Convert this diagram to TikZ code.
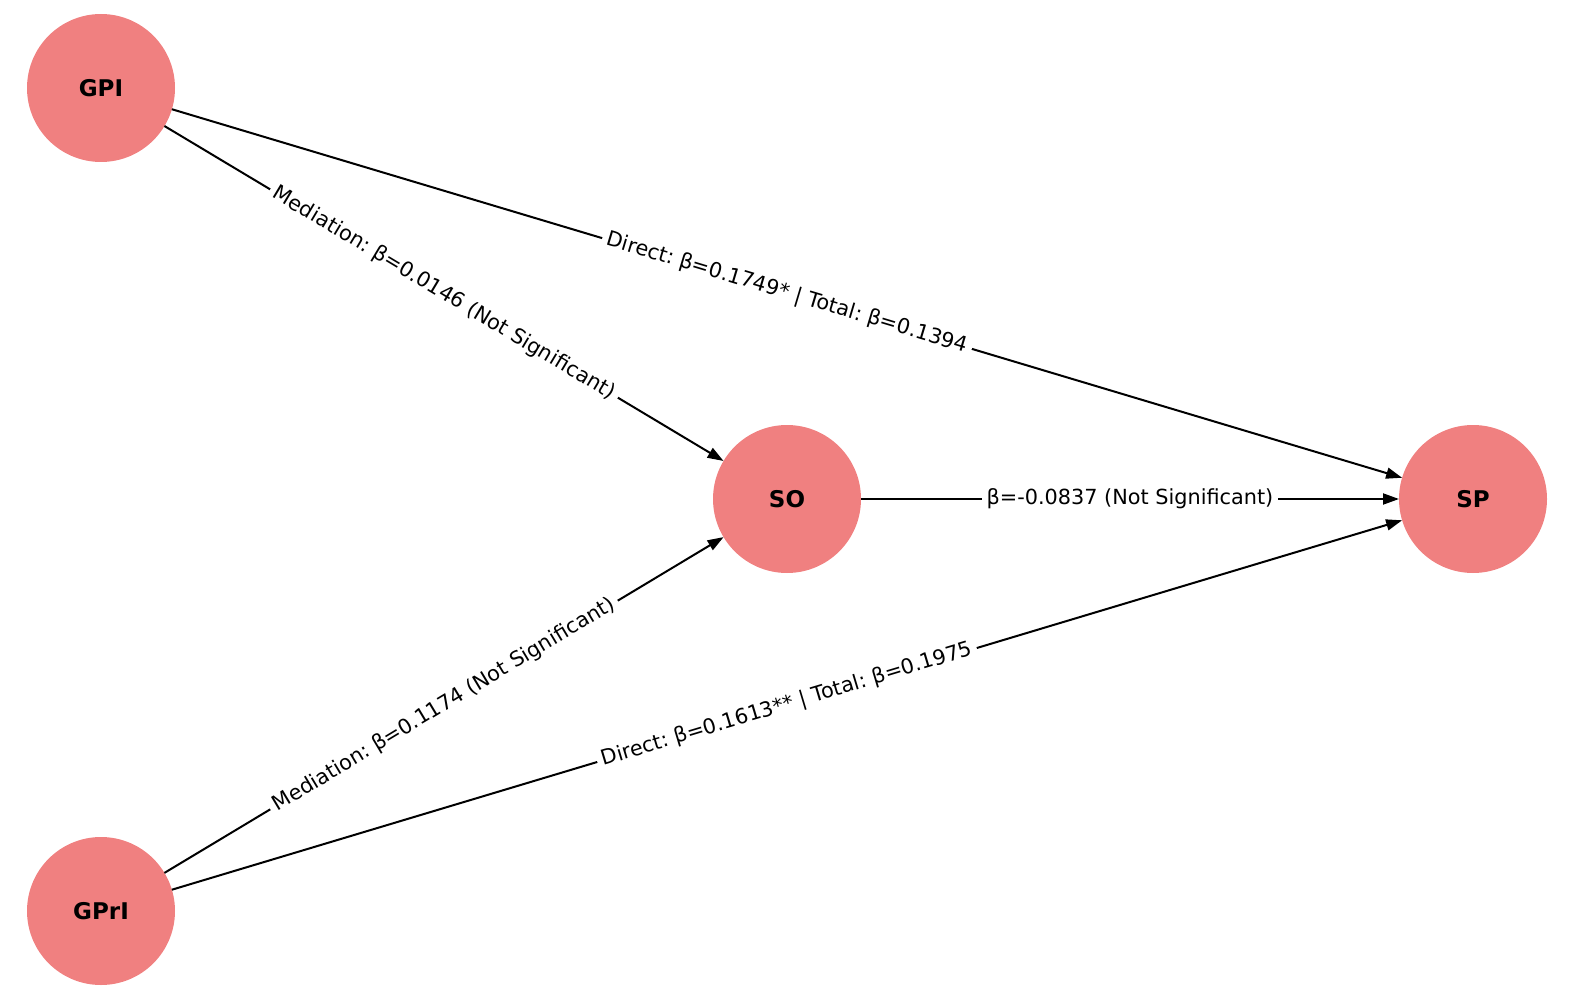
\documentclass[tikz,border=0pt]{standalone}
\usepackage{fontspec}
\setmainfont{DejaVu Sans}
\usetikzlibrary{arrows.meta}
\definecolor{lcoral}{HTML}{F08080}
\tikzset{
  var/.style={circle, fill=lcoral, draw=none, minimum size=148pt, inner sep=0pt, outer sep=0pt, font=\fontsize{23}{27}\selectfont\bfseries},
  link/.style={line width=2pt, draw=black, -{Triangle[length=16pt,width=11pt]}},
  lab/.style={midway, sloped, fill=white, inner sep=5pt, font=\fontsize{20.8}{24}\selectfont}
}
\begin{document}
\frenchspacing
\begin{tikzpicture}[x=1pt,y=-1pt]
\useasboundingbox (0,0) rectangle (1580,1000);
\node[var] (GPI) at (101,88) {GPI};
\node[var] (SO) at (787,499) {SO};
\node[var] (SP) at (1473,499) {SP};
\node[var] (GPrI) at (101,911) {GPrI};
\draw[link] (GPI) -- (SP) node[lab] {Direct: β=0.1749* | Total: β=0.1394};
\draw[link] (GPI) -- (SO) node[lab] {Mediation: β=0.0146 (Not Significant)};
\draw[link] (SO) -- (SP) node[lab] {β=-0.0837 (Not Significant)};
\draw[link] (GPrI) -- (SO) node[lab] {Mediation: β=0.1174 (Not Significant)};
\draw[link] (GPrI) -- (SP) node[lab] {Direct: β=0.1613** | Total: β=0.1975};
\end{tikzpicture}
\end{document}
